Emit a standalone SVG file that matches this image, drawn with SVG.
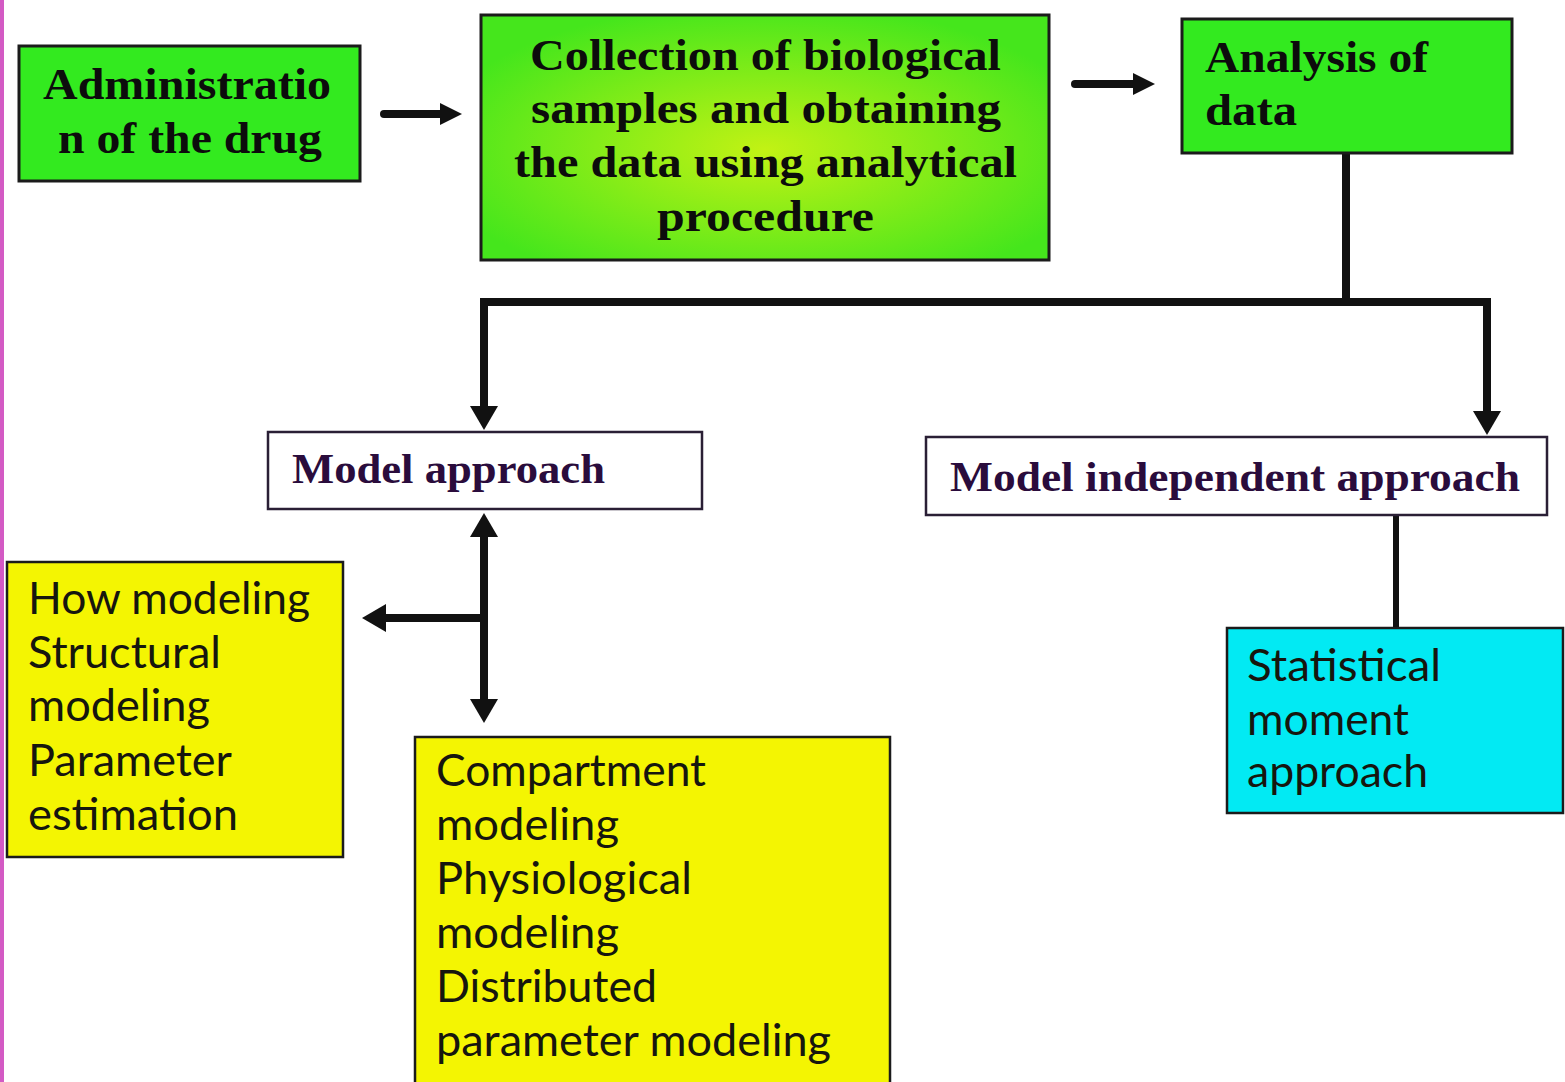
<svg xmlns="http://www.w3.org/2000/svg" width="1565" height="1082" viewBox="0 0 1565 1082">
<defs>
<radialGradient id="g2" cx="0.5" cy="0.55" r="0.6">
<stop offset="0" stop-color="#c2f214"/>
<stop offset="1" stop-color="#45e61c"/>
</radialGradient>
<marker id="ah" viewBox="0 0 24 28" refX="1" refY="14" markerWidth="24" markerHeight="28" markerUnits="userSpaceOnUse" orient="auto-start-reverse">
<path d="M0,0 L24,14 L0,28 z" fill="#111"/>
</marker>
<marker id="ahs" viewBox="0 0 22 22" refX="1" refY="11" markerWidth="22" markerHeight="22" markerUnits="userSpaceOnUse" orient="auto">
<path d="M0,0 L22,11 L0,22 z" fill="#111"/>
</marker>
</defs>
<style>
.box{stroke:#1b1b1b;stroke-width:3}
.green{fill:#33ea1f}
.yellow{fill:#f4f502}
.cyan{fill:#02eaf3}
.white{fill:#ffffff;stroke:#2a1f35}
.ts{font-family:"Liberation Serif","DejaVu Serif",serif;font-weight:bold;font-size:45px;fill:#0c0c0c}
.tm{font-family:"Liberation Serif","DejaVu Serif",serif;font-weight:bold;font-size:43px;fill:#2a0c3c}
.tl{font-family:Lato,"Open Sans","Liberation Sans",sans-serif;font-size:44px;fill:#16160e}
.con{fill:none;stroke:#111;stroke-width:8}
</style>
<rect width="1565" height="1082" fill="#ffffff"/>
<rect x="0" y="0" width="4" height="1082" fill="#d35ac4"/>

<g id="connectors">
<line class="con" x1="384" y1="114" x2="441" y2="114" stroke-linecap="round" marker-end="url(#ahs)"/>
<line class="con" x1="1075" y1="84" x2="1134" y2="84" stroke-linecap="round" marker-end="url(#ahs)"/>
<path class="con" d="M1346,153 V302 H484 V407" marker-end="url(#ah)"/>
<path class="con" d="M1346,302 H1487 V412" marker-end="url(#ah)"/>
<path class="con" d="M484,536 V700" marker-start="url(#ah)" marker-end="url(#ah)"/>
<path class="con" d="M484,618 H385" marker-end="url(#ah)"/>
<path class="con" d="M1396,515 V628" style="stroke-width:6"/>
</g>

<g id="node-administration">
<rect class="box green" x="19" y="46" width="341" height="135"/>
<text class="ts" x="43" y="99" textLength="288" lengthAdjust="spacingAndGlyphs">Administratio</text>
<text class="ts" x="58" y="153" textLength="264" lengthAdjust="spacingAndGlyphs">n of the drug</text>
</g>

<g id="node-collection">
<rect class="box" fill="url(#g2)" x="481" y="15" width="568" height="245"/>
<text class="ts" x="530" y="70" textLength="471" lengthAdjust="spacingAndGlyphs">Collection of biological</text>
<text class="ts" x="531" y="123" textLength="470" lengthAdjust="spacingAndGlyphs">samples and obtaining</text>
<text class="ts" x="514" y="177" textLength="503" lengthAdjust="spacingAndGlyphs">the data using analytical</text>
<text class="ts" x="657" y="231" textLength="217" lengthAdjust="spacingAndGlyphs">procedure</text>
</g>

<g id="node-analysis">
<rect class="box green" x="1182" y="19" width="330" height="134"/>
<text class="ts" x="1205" y="72" textLength="223" lengthAdjust="spacingAndGlyphs">Analysis of</text>
<text class="ts" x="1205" y="125" textLength="92" lengthAdjust="spacingAndGlyphs">data</text>
</g>

<g id="node-model-approach">
<rect class="box white" x="268" y="432" width="434" height="77" style="stroke-width:2.5"/>
<text class="tm" x="292" y="483" textLength="313" lengthAdjust="spacingAndGlyphs">Model approach</text>
</g>

<g id="node-model-independent">
<rect class="box white" x="926" y="437" width="621" height="78" style="stroke-width:2.5"/>
<text class="tm" x="950" y="491" textLength="570" lengthAdjust="spacingAndGlyphs">Model independent approach</text>
</g>

<g id="node-how-modeling">
<rect class="box yellow" x="7" y="562" width="336" height="295" style="stroke-width:2.5"/>
<text class="tl" x="28" y="614" textLength="282" lengthAdjust="spacingAndGlyphs">How modeling</text>
<text class="tl" x="28" y="668" textLength="193" lengthAdjust="spacingAndGlyphs">Structural</text>
<text class="tl" x="28" y="721" textLength="182" lengthAdjust="spacingAndGlyphs">modeling</text>
<text class="tl" x="28" y="776" textLength="204" lengthAdjust="spacingAndGlyphs">Parameter</text>
<text class="tl" x="28" y="830" textLength="210" lengthAdjust="spacingAndGlyphs">estimation</text>
</g>

<g id="node-compartment">
<rect class="box yellow" x="415" y="737" width="475" height="360" style="stroke-width:2.5"/>
<text class="tl" x="436" y="786" textLength="270" lengthAdjust="spacingAndGlyphs">Compartment</text>
<text class="tl" x="436" y="840" textLength="183" lengthAdjust="spacingAndGlyphs">modeling</text>
<text class="tl" x="436" y="894" textLength="256" lengthAdjust="spacingAndGlyphs">Physiological</text>
<text class="tl" x="436" y="948" textLength="183" lengthAdjust="spacingAndGlyphs">modeling</text>
<text class="tl" x="436" y="1002" textLength="221" lengthAdjust="spacingAndGlyphs">Distributed</text>
<text class="tl" x="436" y="1056" textLength="395" lengthAdjust="spacingAndGlyphs">parameter modeling</text>
</g>

<g id="node-statistical">
<rect class="box cyan" x="1227" y="628" width="336" height="185" style="stroke-width:2.5"/>
<text class="tl" x="1247" y="681" textLength="194" lengthAdjust="spacingAndGlyphs">Statistical</text>
<text class="tl" x="1247" y="735" textLength="162" lengthAdjust="spacingAndGlyphs">moment</text>
<text class="tl" x="1247" y="787" textLength="181" lengthAdjust="spacingAndGlyphs">approach</text>
</g>
</svg>
